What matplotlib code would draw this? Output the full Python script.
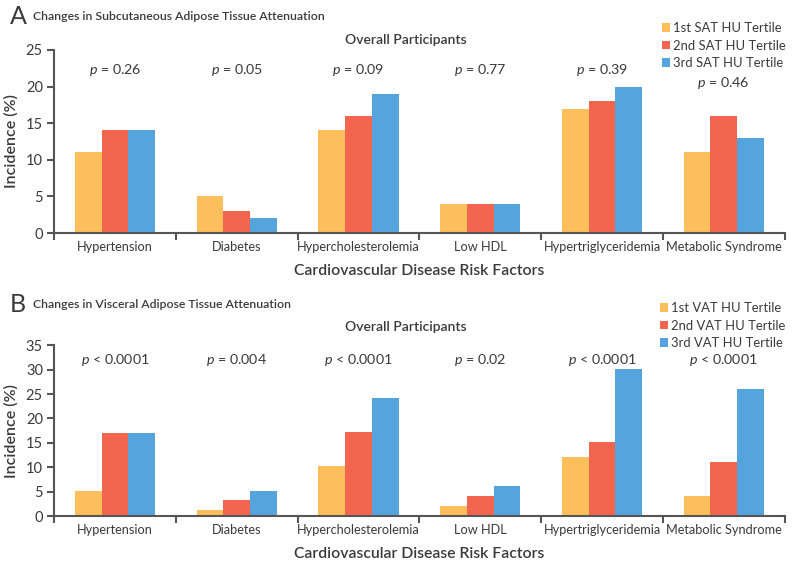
import matplotlib
matplotlib.use("Agg")
import matplotlib.pyplot as plt
import numpy as np
from matplotlib.patches import Patch

plt.rcParams['font.family'] = ['Lato', 'DejaVu Sans']
plt.rcParams['mathtext.fontset'] = 'custom'
plt.rcParams['mathtext.it'] = 'Lato:italic'

categories = ["Hypertension", "Diabetes", "Hypercholesterolemia", "Low HDL",
              "Hypertriglyceridemia", "Metabolic Syndrome"]

sat_t1 = [11, 5, 14, 4, 17, 11]
sat_t2 = [14, 3, 16, 4, 18, 16]
sat_t3 = [14, 2, 19, 4, 20, 13]
sat_p = ["= 0.26", "= 0.05", "= 0.09", "= 0.77", "= 0.39", "= 0.46"]
sat_labels = ["1st SAT HU Tertile", "2nd SAT HU Tertile", "3rd SAT HU Tertile"]

vat_t1 = [5.2, 1.2, 10.2, 2.1, 12.1, 4.1]
vat_t2 = [17.1, 3.2, 17.2, 4.1, 15.2, 11.1]
vat_t3 = [17.1, 5.2, 24.1, 6.2, 30.1, 26.1]
vat_p = ["< 0.0001", "= 0.004", "< 0.0001", "= 0.02", "< 0.0001", "< 0.0001"]
vat_labels = ["1st VAT HU Tertile", "2nd VAT HU Tertile", "3rd VAT HU Tertile"]

colors = ["#FDBE5C", "#F2664F", "#56A4DE"]
axcol = "#555555"
txtcol = "#3a3a3a"

fig = plt.figure(figsize=(7.95, 5.65), dpi=100)

def panel(rect, series, pvals, labels, ymax, ystep, pval_y, letter, title,
          title_y, overall_y, legend_y):
    ax = fig.add_axes(rect)
    x = np.arange(len(categories))
    w = 0.22
    for i, (vals, c) in enumerate(zip(series, colors)):
        ax.bar(x + (i - 1) * w, vals, width=w, color=c, linewidth=0)
    ax.set_xlim(-0.5, len(categories) - 0.5)
    ax.set_ylim(0, ymax)
    ax.set_yticks(np.arange(0, ymax + 0.1, ystep))
    ax.set_xticks(np.arange(-0.5, len(categories)))
    ax.set_xticklabels([])
    ax.set_xticks(x, minor=True)
    ax.set_xticklabels(categories, minor=True, fontsize=9.2, color=txtcol)
    ax.tick_params(axis='x', which='minor', length=0, pad=6)
    ax.tick_params(axis='x', which='major', length=5, width=1.5, color=axcol, direction='out')
    ax.tick_params(axis='y', length=5, width=1.5, color=axcol, labelsize=10.5, labelcolor=txtcol, pad=3)
    for s in ['top', 'right']:
        ax.spines[s].set_visible(False)
    for s in ['left', 'bottom']:
        ax.spines[s].set_color(axcol)
        ax.spines[s].set_linewidth(1.5)
    ax.set_ylabel("Incidence (%)", fontsize=11.5, color=txtcol, labelpad=5,
                  fontweight='semibold')
    ax.set_xlabel("Cardiovascular Disease Risk Factors", fontsize=11.3, color=txtcol,
                  labelpad=8, fontweight='semibold')
    for xi, (p, py) in enumerate(zip(pvals, pval_y)):
        ax.text(xi, py, "$p$ " + p, ha='center', va='center', fontsize=10.3, color=txtcol)
    fig.text(0.012, title_y, letter, fontsize=18, color=txtcol, va='center', ha='left')
    fig.text(0.041, title_y, title, fontsize=8.8, color=txtcol, va='center', ha='left',
             fontweight='semibold')
    fig.text(0.51, overall_y, "Overall Participants", fontsize=10, color=txtcol,
             va='center', ha='center', fontweight='semibold')
    handles = [Patch(facecolor=c, edgecolor='none') for c in colors]
    leg = fig.legend(handles, labels, loc='upper right', bbox_to_anchor=(0.995, legend_y),
                     frameon=False, fontsize=9.4, handlelength=0.6, handleheight=0.6,
                     handletextpad=0.25, labelspacing=0.42, borderaxespad=0)
    for t in leg.get_texts():
        t.set_color(txtcol)
    return ax

panel([0.068, 0.5876, 0.919, 0.324], [sat_t1, sat_t2, sat_t3], sat_p, sat_labels,
      25, 5, [22.2, 22.2, 22.2, 22.2, 22.2, 20.5], "A",
      "Changes in Subcutaneous Adipose Tissue Attenuation",
      1 - 17 / 565, 1 - 40 / 565, 1 - 17 / 565)
panel([0.068, 0.0867, 0.919, 0.3023], [vat_t1, vat_t2, vat_t3], vat_p, vat_labels,
      35, 5, [31.9] * 6, "B", "Changes in Visceral Adipose Tissue Attenuation",
      1 - 305 / 565, 1 - 327 / 565, 1 - 297 / 565)

fig.savefig("out.png", dpi=100)
